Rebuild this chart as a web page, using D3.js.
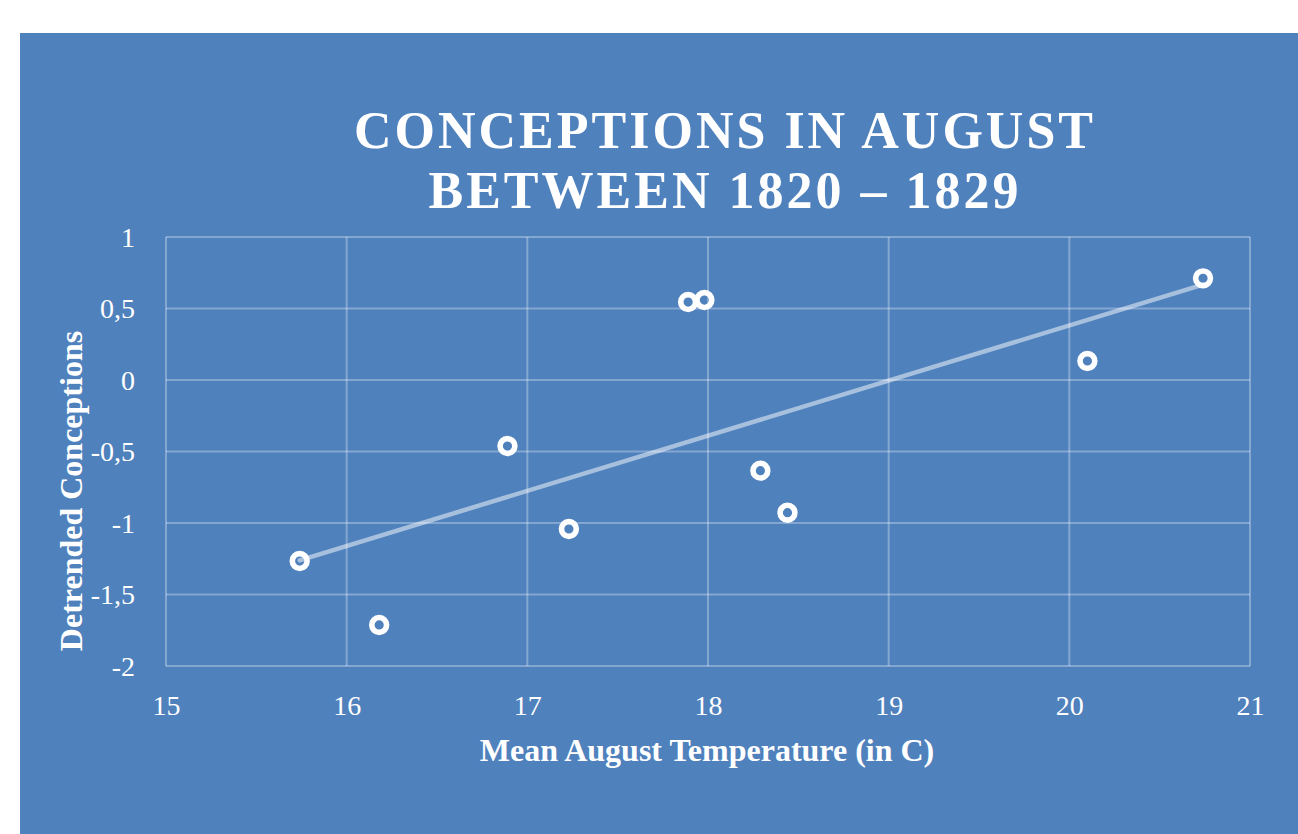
<!DOCTYPE html>
<html>
<head>
<meta charset="utf-8">
<script src="https://cdn.jsdelivr.net/npm/d3@7"></script>
<style>
  html, body { margin: 0; padding: 0; background: #ffffff; }
  svg { display: block; font-family: "Liberation Serif", "Times New Roman", serif; }
</style>
</head>
<body>
<svg id="chart" width="1298" height="834"></svg>
<script>
// values
const temperatures = [15.74, 16.18, 16.89, 17.23, 17.89, 17.98, 18.29, 18.44, 20.10, 20.74];
const conceptions = [-1.266, -1.713, -0.462, -1.042, 0.545, 0.559, -0.634, -0.928, 0.133, 0.711];
const xTicks = [15, 16, 17, 18, 19, 20, 21];
const yTicks = [-2, -1.5, -1, -0.5, 0, 0.5, 1];
const titleLines = ["CONCEPTIONS IN AUGUST", "BETWEEN 1820 \u2013 1829"];
const xLabel = "Mean August Temperature (in C)";
const yLabel = "Detrended Conceptions";

const points = temperatures.map((t, i) => ({ x: t, y: conceptions[i] }));

const svg = d3.select("#chart");
const panelColor = "#4f81bd";
const plot = { left: 166, right: 1250, top: 237, bottom: 666 };

svg.append("rect")
  .attr("x", 20).attr("y", 33)
  .attr("width", 1298 - 20).attr("height", 834 - 33)
  .attr("fill", panelColor);

const x = d3.scaleLinear().domain([15, 21]).range([plot.left, plot.right]);
const y = d3.scaleLinear().domain([-2, 1]).range([plot.bottom, plot.top]);

const fmt = (v) => String(v).replace(".", ",");

// gridlines
const grid = svg.append("g").attr("class", "grid")
  .attr("stroke", "#ffffff").attr("stroke-opacity", 0.3).attr("stroke-width", 2);
grid.selectAll("line.h").data(yTicks).join("line")
  .attr("class", "h")
  .attr("x1", plot.left).attr("x2", plot.right)
  .attr("y1", (d) => y(d)).attr("y2", (d) => y(d));
grid.selectAll("line.v").data(xTicks).join("line")
  .attr("class", "v")
  .attr("y1", plot.top).attr("y2", plot.bottom)
  .attr("x1", (d) => x(d)).attr("x2", (d) => x(d));

// axes: labels only, no domain or ticks
const xAxis = svg.append("g")
  .attr("transform", `translate(0, ${plot.bottom})`)
  .call(d3.axisBottom(x).tickValues(xTicks).tickSize(0).tickPadding(49).tickFormat(fmt));
const yAxis = svg.append("g")
  .attr("transform", `translate(${plot.left}, 0)`)
  .call(d3.axisLeft(y).tickValues(yTicks).tickSize(0).tickPadding(31).tickFormat(fmt));
[xAxis, yAxis].forEach((g) => {
  g.select(".domain").remove();
  g.selectAll("text")
    .attr("fill", "#ffffff")
    .attr("font-family", "Liberation Serif, Times New Roman, serif")
    .attr("font-size", 28);
});
xAxis.selectAll("text").attr("dy", 0);
yAxis.selectAll("text").attr("dy", "0.33em");

// linear trendline (least squares)
const mx = d3.mean(points, (d) => d.x);
const my = d3.mean(points, (d) => d.y);
const slope = d3.sum(points, (d) => (d.x - mx) * (d.y - my)) / d3.sum(points, (d) => (d.x - mx) ** 2);
const intercept = my - slope * mx;
const [xmin, xmax] = d3.extent(points, (d) => d.x);
svg.append("line")
  .attr("x1", x(xmin)).attr("y1", y(intercept + slope * xmin))
  .attr("x2", x(xmax)).attr("y2", y(intercept + slope * xmax))
  .attr("stroke", "#ffffff").attr("stroke-opacity", 0.5)
  .attr("stroke-width", 4.5).attr("stroke-linecap", "round");

// markers
svg.append("g").selectAll("circle").data(points).join("circle")
  .attr("cx", (d) => x(d.x))
  .attr("cy", (d) => y(d.y))
  .attr("r", 7.4)
  .attr("fill", "none")
  .attr("stroke", "#ffffff")
  .attr("stroke-width", 5.6);

// title
svg.append("text")
  .attr("x", 725).attr("y", 148)
  .attr("text-anchor", "middle")
  .attr("fill", "#ffffff")
  .attr("font-size", 52).attr("font-weight", "bold")
  .attr("letter-spacing", 3)
  .selectAll("tspan").data(titleLines).join("tspan")
  .attr("x", 725)
  .attr("dy", (d, i) => (i === 0 ? 0 : 60))
  .text((d) => d);

// axis titles
svg.append("text")
  .attr("x", 707).attr("y", 761)
  .attr("text-anchor", "middle")
  .attr("fill", "#ffffff")
  .attr("font-size", 32).attr("font-weight", "bold")
  .text(xLabel);

svg.append("text")
  .attr("transform", "translate(82, 491) rotate(-90)")
  .attr("text-anchor", "middle")
  .attr("fill", "#ffffff")
  .attr("font-size", 32).attr("font-weight", "bold")
  .text(yLabel);
</script>
</body>
</html>
